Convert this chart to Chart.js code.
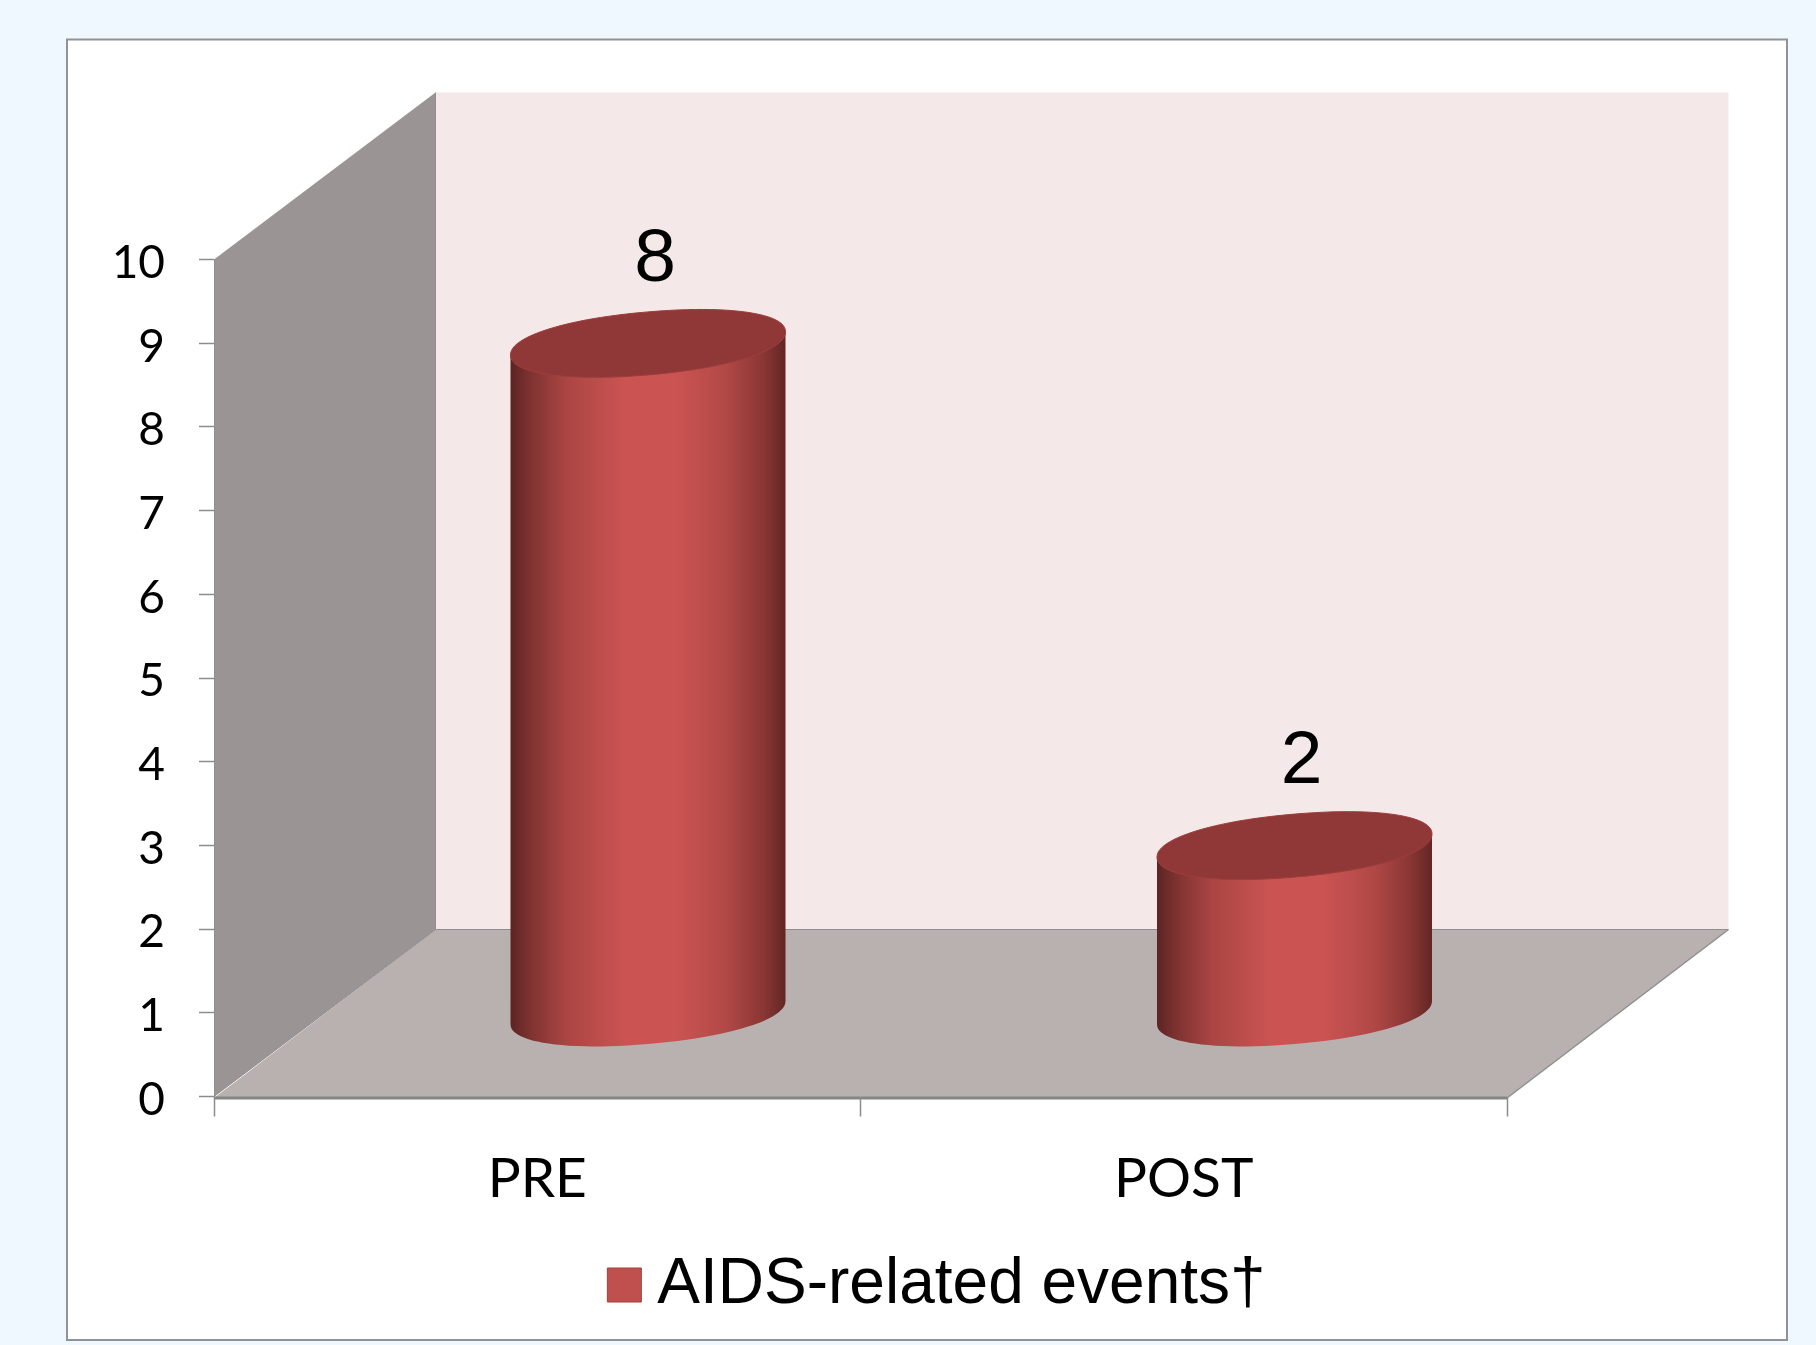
<!DOCTYPE html>
<html>
<head>
<meta charset="utf-8">
<title>AIDS-related events</title>
<script src="https://cdn.jsdelivr.net/npm/chart.js@4"></script>
<style>
    html, body { margin: 0; padding: 0; background: #f0f8ff; }
    canvas { display: block; }
</style>
</head>
<body>
<canvas id="eventsChart" width="1816" height="1345"></canvas>
<script>
const categories = ['PRE', 'POST'];
const seriesName = 'AIDS-related events†';
const seriesValues = [8, 2];
const tickValues = [0, 1, 2, 3, 4, 5, 6, 7, 8, 9, 10];

// depth of the fake 3D box, the cylinders stand half way into it
const DEPTH_X = 221.5;
const DEPTH_Y = 167;
// cylinder end caps: half height and how much the cap tilts from left to right
const CAP_H = 31.5;
const CAP_LEAN = 11.6;
const CAP_POWER = 0.94;

function fillPoly(ctx, pts, color) {
    ctx.beginPath();
    pts.forEach((p, i) => i ? ctx.lineTo(p[0], p[1]) : ctx.moveTo(p[0], p[1]));
    ctx.closePath();
    ctx.fillStyle = color;
    ctx.fill();
}

function strokeLine(ctx, x1, y1, x2, y2, color, width) {
    ctx.beginPath();
    ctx.moveTo(x1, y1);
    ctx.lineTo(x2, y2);
    ctx.strokeStyle = color;
    ctx.lineWidth = width;
    ctx.stroke();
}

const boxPlugin = {
    id: 'box',
    beforeDraw(chart) {
        const ctx = chart.ctx;
        const { left, right, top, bottom } = chart.chartArea;
        const floorY = bottom + 1.5; // front edge of the floor hangs just under the zero tick

        ctx.save();
        ctx.fillStyle = '#ffffff';
        ctx.fillRect(67, 39.5, 1720, 1300.5);
        ctx.strokeStyle = '#8f9395';
        ctx.lineWidth = 2;
        ctx.strokeRect(67, 39.5, 1720, 1300.5);

        // back wall, side wall, floor
        fillPoly(ctx, [[left + DEPTH_X, top - DEPTH_Y], [right + DEPTH_X, top - DEPTH_Y], [right + DEPTH_X, bottom - DEPTH_Y], [left + DEPTH_X, bottom - DEPTH_Y]], '#f5e8e8');
        fillPoly(ctx, [[left, top], [left + DEPTH_X, top - DEPTH_Y], [left + DEPTH_X, bottom - DEPTH_Y], [left, bottom]], '#9b9494');
        fillPoly(ctx, [[left, floorY], [left + DEPTH_X, bottom - DEPTH_Y], [right + DEPTH_X, bottom - DEPTH_Y], [right, floorY]], '#b9b0b0');

        strokeLine(ctx, left + DEPTH_X, top - DEPTH_Y, left + DEPTH_X, bottom - DEPTH_Y, '#8f8f8f', 1);
        strokeLine(ctx, left + DEPTH_X, bottom - DEPTH_Y, right + DEPTH_X, bottom - DEPTH_Y, '#8f8f8f', 1);
        strokeLine(ctx, left, bottom, left + DEPTH_X, bottom - DEPTH_Y, '#8f8f8f', 1);
        strokeLine(ctx, right, floorY, right + DEPTH_X, bottom - DEPTH_Y, '#8f8f8f', 1.5);
        strokeLine(ctx, left, floorY, right, floorY, '#858585', 3);
        ctx.restore();
    }
};

// point on a cap's outline, slightly squarer than a true ellipse
function capPoint(cx, cy, halfW, t) {
    const c = Math.cos(t);
    const s = Math.sin(t);
    const sc = Math.sign(c) * Math.pow(Math.abs(c), CAP_POWER);
    const ss = Math.sign(s) * Math.pow(Math.abs(s), CAP_POWER);
    return [cx + halfW * sc, cy - CAP_LEAN * sc + CAP_H * ss];
}

function drawCylinder(ctx, bar) {
    const halfW = bar.width / 2;
    const cx = bar.x + DEPTH_X / 2;
    const topY = bar.y - DEPTH_Y / 2;
    const baseY = bar.base - DEPTH_Y / 2;

    const shade = ctx.createLinearGradient(cx - halfW, 0, cx + halfW, 0);
    shade.addColorStop(0, '#5c2424');
    shade.addColorStop(0.07, '#7d3230');
    shade.addColorStop(0.2, '#aa4543');
    shade.addColorStop(0.42, '#cb5452');
    shade.addColorStop(0.6, '#cb5452');
    shade.addColorStop(0.78, '#b24947');
    shade.addColorStop(0.92, '#8a3634');
    shade.addColorStop(1, '#622625');

    // side of the cylinder: down the left, round the front of the base, back up the right
    ctx.beginPath();
    ctx.moveTo(cx - halfW, topY + CAP_LEAN);
    for (let i = 0; i <= 48; i++) {
        const p = capPoint(cx, baseY, halfW, Math.PI - Math.PI * i / 48);
        ctx.lineTo(p[0], p[1]);
    }
    ctx.lineTo(cx + halfW, topY - CAP_LEAN);
    ctx.closePath();
    ctx.fillStyle = shade;
    ctx.fill();

    ctx.beginPath();
    for (let i = 0; i < 96; i++) {
        const p = capPoint(cx, topY, halfW, Math.PI * 2 * i / 96);
        ctx.lineTo(p[0], p[1]);
    }
    ctx.closePath();
    ctx.fillStyle = '#8f3837';
    ctx.fill();
    ctx.strokeStyle = '#9c3e3c';
    ctx.lineWidth = 1;
    ctx.stroke();
}

const cylinderPlugin = {
    id: 'cylinders',
    beforeDatasetDraw(chart, args) {
        const ctx = chart.ctx;
        ctx.save();
        args.meta.data.forEach((bar, i) => {
            drawCylinder(ctx, bar);
            ctx.fillStyle = '#000000';
            ctx.font = '75px "Liberation Sans"';
            ctx.textAlign = 'center';
            ctx.textBaseline = 'middle';
            ctx.fillText(String(seriesValues[i]), bar.x + DEPTH_X / 2 + 7, bar.y - DEPTH_Y / 2 - 83);
        });
        ctx.restore();
        return false; // cylinders replace the flat bars
    }
};

// the legend sits under the plot but is centred on the frame
const legendPlugin = {
    id: 'legendPlace',
    afterLayout(chart) {
        const legend = chart.legend;
        const h = legend.bottom - legend.top;
        legend.left += 191;
        legend.right += 191;
        legend.top = 1253;
        legend.bottom = legend.top + h;
    }
};

new Chart(document.getElementById('eventsChart').getContext('2d'), {
    type: 'bar',
    data: {
        labels: categories,
        datasets: [{
            label: seriesName,
            data: seriesValues,
            backgroundColor: '#c0504d',
            borderColor: '#a23f3d',
            borderWidth: 1,
            categoryPercentage: 1,
            barPercentage: 0.4254
        }]
    },
    plugins: [boxPlugin, cylinderPlugin, legendPlugin],
    options: {
        responsive: false,
        animation: false,
        layout: { padding: { left: 0, right: 309, top: 259.5, bottom: 0 } },
        scales: {
            x: {
                afterFit(scale) { scale.height = 174.5; },
                grid: { offset: true, drawOnChartArea: false, tickLength: 20, tickColor: '#8c8c8c', tickWidth: 1.5 },
                border: { display: false },
                ticks: { color: '#000000', padding: 30, font: { family: 'Lato', size: 55 } }
            },
            y: {
                min: 0,
                max: 10,
                afterFit(scale) { scale.width = 214; },
                afterBuildTicks(scale) { scale.ticks = tickValues.map(v => ({ value: v })); },
                grid: { drawOnChartArea: false, tickLength: 15, tickColor: '#8c8c8c', tickWidth: 1.5 },
                border: { color: '#8f8f8f', width: 1 },
                ticks: { color: '#000000', padding: 34, labelOffset: 3.5, font: { family: 'Lato', size: 46 } }
            }
        },
        plugins: {
            tooltip: { enabled: false },
            legend: {
                position: 'bottom',
                labels: {
                    usePointStyle: true,
                    pointStyle: 'rect',
                    boxWidth: 2, // keeps the label close to the swatch
                    boxHeight: 34,
                    padding: 0,
                    color: '#000000',
                    font: { family: 'Liberation Sans', size: 64 }
                }
            }
        }
    }
});
</script>
</body>
</html>
